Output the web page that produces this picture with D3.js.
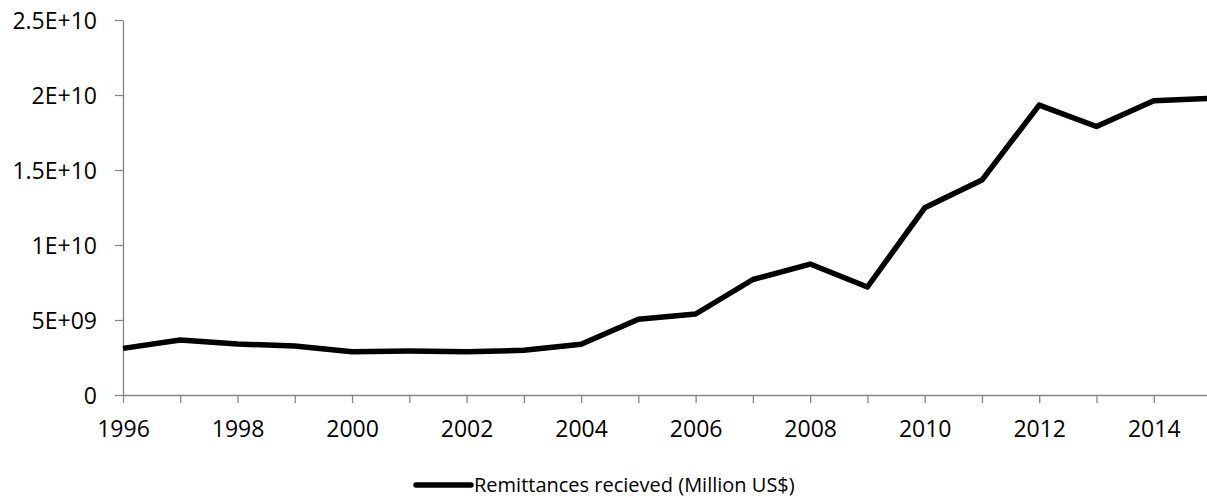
<!DOCTYPE html>
<html>
<head>
<meta charset="utf-8">
<script src="https://cdn.jsdelivr.net/npm/d3@7"></script>
<style>
  body { margin: 0; background: #fff; }
  svg text { font-family: "Open Sans", "Noto Sans", sans-serif; fill: #000; }
</style>
</head>
<body>
<svg width="1207" height="500"></svg>
<script>
// Data
const years = [1996, 1997, 1998, 1999, 2000, 2001, 2002, 2003, 2004, 2005,
  2006, 2007, 2008, 2009, 2010, 2011, 2012, 2013, 2014, 2015];
const remittances = [3.11e9, 3.67e9, 3.40e9, 3.27e9, 2.89e9, 2.93e9, 2.89e9, 2.98e9, 3.38e9, 5.05e9,
  5.40e9, 7.70e9, 8.73e9, 7.20e9, 12.48e9, 14.33e9, 19.33e9, 17.90e9, 19.62e9, 19.77e9];
const yTicks = [0, 5e9, 1e10, 1.5e10, 2e10, 2.5e10];
const yTickLabels = ["0", "5E+09", "1E+10", "1.5E+10", "2E+10", "2.5E+10"];
const xTickYears = [1996, 1998, 2000, 2002, 2004, 2006, 2008, 2010, 2012, 2014];
const seriesName = "Remittances recieved (Million US$)";

const data = years.map((y, i) => ({ year: y, value: remittances[i] }));

const svg = d3.select("svg");
const axisColor = "#868686";

// Skalaer (2015 ligger lige uden for billedets højre kant)
const x = d3.scaleLinear().domain([1996, 2015]).range([123, 1211]);
const y = d3.scaleLinear().domain([0, 2.5e10]).range([395, 20]);

// Y-akse
const yAxis = svg.append("g").attr("transform", "translate(123,0)")
  .call(d3.axisLeft(y).tickValues(yTicks).tickSize(8).tickSizeOuter(0).tickPadding(18)
    .tickFormat((d, i) => yTickLabels[i]));
yAxis.select(".domain").attr("stroke", axisColor).attr("stroke-width", 1.3);
yAxis.selectAll(".tick line").attr("stroke", axisColor).attr("stroke-width", 1.3);
yAxis.selectAll(".tick text").attr("font-size", 23).attr("dy", "0.36em");

// X-akse
const xAxis = svg.append("g").attr("transform", "translate(0,395)")
  .call(d3.axisBottom(x).tickValues(years).tickSize(8).tickSizeOuter(0).tickPadding(18)
    .tickFormat(d => xTickYears.includes(d) ? d : ""));
xAxis.select(".domain").attr("stroke", axisColor).attr("stroke-width", 1.3);
xAxis.selectAll(".tick line").attr("stroke", axisColor).attr("stroke-width", 1.3);
xAxis.selectAll(".tick text").attr("font-size", 23);

// Linje
const line = d3.line().x(d => x(d.year)).y(d => y(d.value));
svg.append("path")
  .datum(data)
  .attr("d", line)
  .attr("fill", "none")
  .attr("stroke", "#000")
  .attr("stroke-width", 5.5)
  .attr("stroke-linejoin", "round");

// Legende
const legend = svg.append("g").attr("transform", "translate(416,485)");
legend.append("line")
  .attr("x1", 0).attr("x2", 55).attr("y1", 0).attr("y2", 0)
  .attr("stroke", "#000").attr("stroke-width", 5.5).attr("stroke-linecap", "round");
legend.append("text")
  .attr("x", 58).attr("y", 0).attr("dy", "0.36em")
  .attr("font-size", 20)
  .text(seriesName);
</script>
</body>
</html>
